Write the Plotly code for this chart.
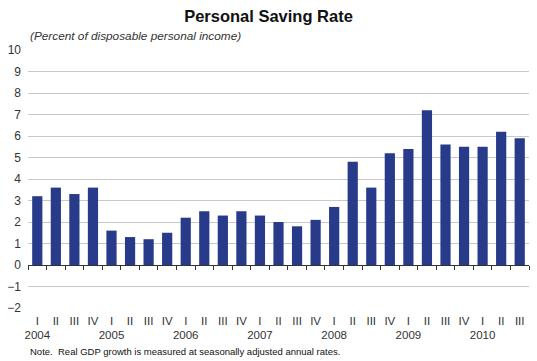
import plotly.graph_objects as go

quarters = ["I", "II", "III", "IV"]
years = ["2004", "2005", "2006", "2007", "2008", "2009", "2010"]
saving_rate = [3.2, 3.6, 3.3, 3.6,
               1.6, 1.3, 1.2, 1.5,
               2.2, 2.5, 2.3, 2.5,
               2.3, 2.0, 1.8, 2.1,
               2.7, 4.8, 3.6, 5.2,
               5.4, 7.2, 5.6, 5.5,
               5.5, 6.2, 5.9]
y_ticks = list(range(-2, 11))

n = len(saving_rate)
x = list(range(n))
tick_text = []
for i in range(n):
    q = quarters[i % 4]
    if i % 4 == 0:
        tick_text.append(f"{q}<br>{years[i // 4]}")
    else:
        tick_text.append(q)

font = "Liberation Sans, Arial, sans-serif"
bar_color = "#283A8A"

fig = go.Figure()
fig.add_trace(go.Bar(x=x, y=saving_rate, marker_color=bar_color,
                     marker_line_width=0, width=0.55, showlegend=False))
# invisible trace on second x axis so that the axis is drawn
fig.add_trace(go.Scatter(x=[x[0], x[-1]], y=[0, 0], xaxis="x2", mode="lines",
                         line=dict(width=0), hoverinfo="skip", showlegend=False))

xr = [-0.5, n - 0.5]
yr = [y_ticks[0], y_ticks[-1]]

fig.update_layout(
    width=537, height=361,
    margin=dict(l=28, r=8, t=50, b=53, autoexpand=False),
    paper_bgcolor="white", plot_bgcolor="white",
    font=dict(family=font, color="#333333"),
    title=dict(text="<b>Personal Saving Rate</b>", x=0.5, xanchor="center",
               y=0.955, yanchor="middle", font=dict(size=16.5, color="#111111", family=font)),
    xaxis=dict(range=xr, tickmode="array", tickvals=x, ticktext=tick_text,
               tickangle=0, automargin=False,
               showgrid=False, zeroline=False, showline=False, ticks="",
               ticklabelstandoff=4,
               tickfont=dict(size=11.5, color="#333333"), fixedrange=True),
    xaxis2=dict(range=xr, overlaying="x", anchor="free",
                position=(0 - yr[0]) / (yr[1] - yr[0]), automargin=False,
                side="bottom", showgrid=False, zeroline=False,
                showline=True, linecolor="#333333", linewidth=1.3,
                ticks="outside", ticklen=4, tickcolor="#333333", tickwidth=1,
                tickmode="array", tickvals=[i - 0.5 for i in range(n + 1)],
                showticklabels=False),
    yaxis=dict(range=yr, tickmode="array", tickvals=y_ticks, automargin=False,
               showgrid=True, gridcolor="#C8C8C8", gridwidth=1,
               zeroline=False, showline=False, ticks="",
               ticklabelstandoff=6,
               tickfont=dict(size=12, color="#333333")),
)

fig.add_annotation(text="<i>(Percent of disposable personal income)</i>",
                   xref="paper", yref="paper", x=0, y=1.0, xanchor="left",
                   yanchor="bottom", yshift=5, showarrow=False,
                   font=dict(size=11.8, color="#333333", family=font))
fig.add_annotation(text="Note.  Real GDP growth is measured at seasonally adjusted annual rates.",
                   xref="paper", yref="paper", x=0, y=0, xanchor="left",
                   yanchor="top", yshift=-36, showarrow=False,
                   font=dict(size=9.5, color="#111111", family=font))

fig.write_html("out.html", config={"displayModeBar": False},
               post_script="document.body.style.margin='0';document.body.style.overflow='hidden';")
